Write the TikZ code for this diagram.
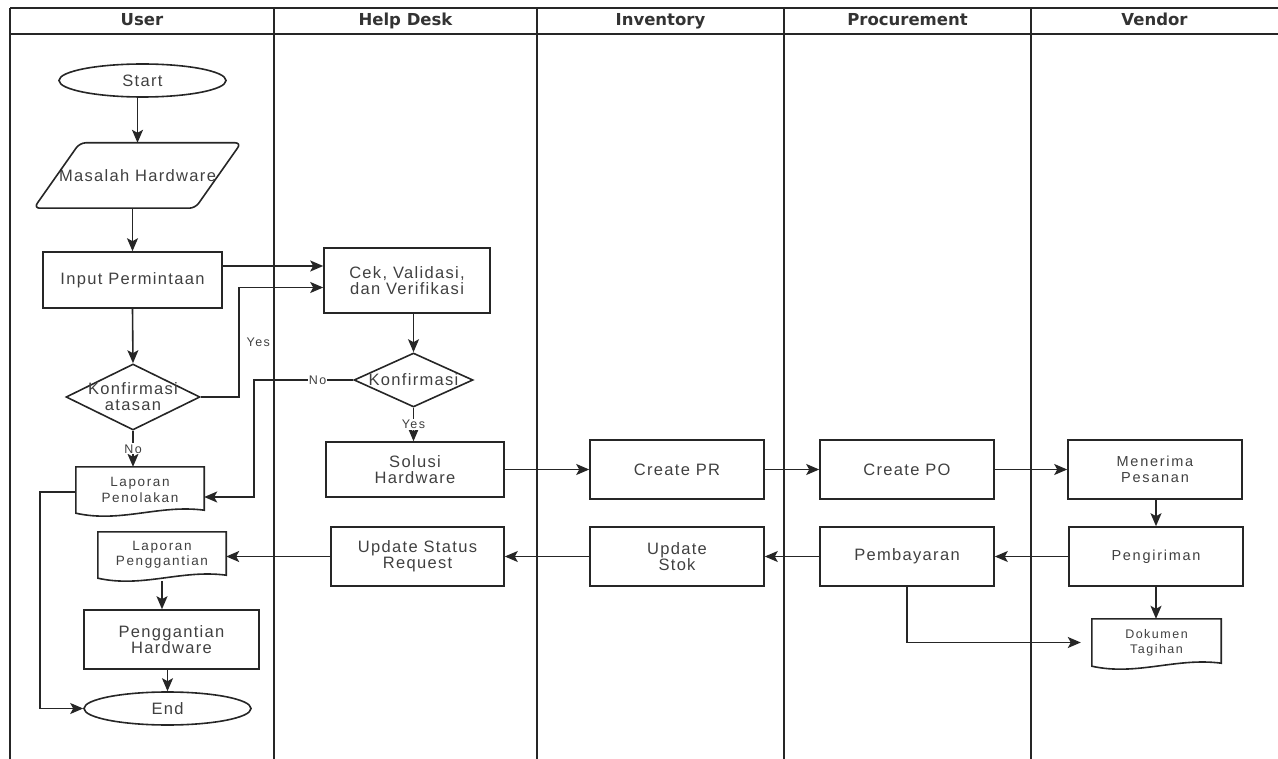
\documentclass[tikz,border=0pt]{standalone}
\usepackage{fontspec}
\setmainfont{Liberation Sans}[LetterSpace=8]
\newfontfamily\widefont{Liberation Sans}[LetterSpace=12]
\newfontfamily\headfont{DejaVu Sans}
\usetikzlibrary{shapes.geometric,positioning,arrows.meta,calc}

% outline of a document symbol (wavy bottom) around a named node
\newcommand{\docoutline}[1]{%
  \draw[shapeline] (#1.south west) -- (#1.north west) -- (#1.north east) -- ([yshift=3pt]#1.south east)
    .. controls ([xshift=-45pt,yshift=9pt]#1.south east) and ([xshift=45pt,yshift=-10pt]#1.south west) .. (#1.south west) -- cycle;}

\tikzset{
  lane/.style={line width=1.6pt, draw=black!85},
  header/.style={font=\headfont\bfseries\fontsize{16.5}{20}\selectfont, text=black!80, text height=12pt, text depth=3pt},
  shapeline/.style={line width=1.6pt, draw=black!85},
  txt/.style={align=center, text=black!75, font=\fontsize{16.5}{16}\selectfont},
  smalltxt/.style={align=center, text=black!75, font=\widefont\fontsize{14.5}{15.5}\selectfont},
  proc/.style={txt, shapeline, draw, minimum width=174pt, minimum height=59pt},
  terminal/.style={txt, shapeline, draw, ellipse, minimum width=167pt, minimum height=33pt, inner sep=0pt},
  decision/.style={shapeline, draw, diamond, inner sep=0pt},
  docbox/.style={align=center, text=black!75, font=\widefont\fontsize{13.5}{15.5}\selectfont, minimum width=128pt, minimum height=46pt, inner sep=0pt},
  flow/.style={->, line width=1.6pt, draw=black!85},
  yesno/.style={text=black!75, font=\widefont\fontsize{12.5}{14}\selectfont, inner sep=1pt}
}

\begin{document}
\begin{tikzpicture}[x=1pt, y=-1pt, >={Stealth[length=13pt,width=11pt,inset=3pt]}]
    \useasboundingbox (0,0) rectangle (1278,759);

    % lanes
    \draw[lane] (10,8) -- (1278,8);
    \draw[lane] (10,34) -- (1278,34);
    \draw[lane] (10,8) -- (10,759);
    \draw[lane] (274,8) -- (274,759);
    \draw[lane] (537,8) -- (537,759);
    \draw[lane] (784,8) -- (784,759);
    \draw[lane] (1031,8) -- (1031,759);
    \node[header] (hUser) at (142,21) {User};
    \node[header] (hDesk) at (405.5,21) {Help Desk};
    \node[header] (hInv) at (660.5,21) {Inventory};
    \node[header] (hProc) at (907.5,21) {Procurement};
    \node[header] (hVendor) at (1154.5,21) {Vendor};

    % user
    \node[terminal] (start) at (142.5,80.5) {Start};
    \node[txt, minimum width=161pt, minimum height=65pt, inner sep=0pt] (masalah) at (137.5,175.5) {Masalah Hardware};
    \draw[shapeline, rounded corners=6pt] ([xshift=-23pt]masalah.south west) -- ([xshift=23pt]masalah.north west)
        -- ([xshift=23pt]masalah.north east) -- ([xshift=-23pt]masalah.south east) -- cycle;
    \node[proc, minimum width=179pt, minimum height=56pt] (input) at (132.5,280) {Input Permintaan};
    \node[decision, minimum width=134pt, minimum height=66pt] (konfA) at (133,397) {};
    \node[txt] (konfAtext) at (konfA) {Konfirmasi\\atasan};
    \node[docbox] (tolak) at (140,490) {Laporan\\Penolakan};
    \docoutline{tolak}
    \node[docbox] (lapGanti) at (162,555) {Laporan\\Penggantian};
    \docoutline{lapGanti}
    \node[proc, minimum width=175pt] (gantiHw) at (171.5,639.5) {Penggantian\\Hardware};
    \node[terminal] (end) at (167.5,708.5) {End};

    % help desk
    \node[proc, minimum width=166pt, minimum height=65pt] (cek) at (407,280.5) {Cek, Validasi,\\dan Verifikasi};
    \node[decision, minimum width=119pt, minimum height=54pt] (konfB) at (413.5,380) {};
    \node[txt] (konfBtext) at (konfB) {Konfirmasi};
    \node[proc, minimum width=178pt, minimum height=55pt] (solusi) at (415,469.5) {Solusi\\Hardware};
    \node[proc, minimum width=173pt] (updStatus) at (417.5,556.5) {Update Status\\Request};

    % inventory, procurement, vendor
    \node[proc] (createPR) at (677,469.5) {Create PR};
    \node[proc] (updStok) at (677,556.5) {Update\\Stok};
    \node[proc] (createPO) at (907,469.5) {Create PO};
    \node[proc] (bayar) at (907,556.5) {Pembayaran};
    \node[proc, smalltxt] (terima) at (1155,469.5) {Menerima\\Pesanan};
    \node[proc, smalltxt] (kirim) at (1156,556.5) {Pengiriman};
    \node[docbox, minimum width=129pt, minimum height=47pt, font=\widefont\fontsize{12.5}{15}\selectfont] (tagihan) at (1156.5,642.5) {Dokumen\\Tagihan};
    \docoutline{tagihan}

    % flows
    \draw[flow] (start.south -| masalah.north) -- (masalah.north);
    \draw[flow] (masalah.south -| input.north) -- (input.north);
    \draw[flow] ([yshift=14pt]input.east) -- ([yshift=14pt]input.east -| cek.west);
    \draw[flow] (input.south) -- (konfA.north);
    \draw[flow] (konfA.east) -- ++(38,0) |- node[yesno, pos=0.25, right=6pt] {Yes} ([yshift=-7pt]cek.west);
    \draw[flow] (konfA.south) -- node[yesno, fill=white] {No} (konfA.south |- tolak.north);
    \draw[flow] (cek.south -| konfB.north) -- (konfB.north);
    \draw[flow] (konfB.west) -- node[yesno, fill=white, pos=0.36] {No} ++(-99,0) |- ([yshift=-7pt]tolak.east);
    \draw[flow] (konfB.south) -- node[yesno, fill=white] {Yes} (konfB.south |- solusi.north);
    \draw[flow] ([yshift=-2pt]tolak.west) -- ++(-36,0) |- (end.west);
    \draw[flow] (solusi.east) -- (createPR.west);
    \draw[flow] (createPR.east) -- (createPO.west);
    \draw[flow] (createPO.east) -- (terima.west);
    \draw[flow] (terima.south -| kirim.north) -- (kirim.north);
    \draw[flow] (kirim.west) -- (bayar.east);
    \draw[flow] (bayar.west) -- (updStok.east);
    \draw[flow] (updStok.west) -- (updStatus.east);
    \draw[flow] (updStatus.west) -- (updStatus.west -| lapGanti.east);
    \draw[flow] ([yshift=-3pt]lapGanti.south) -- (lapGanti.south |- gantiHw.north);
    \draw[flow] (end.north |- gantiHw.south) -- (end.north);
    \draw[flow] (kirim.south) -- (kirim.south |- tagihan.north);
    \draw[flow, shorten >=11pt] (bayar.south) |- (tagihan.west);
\end{tikzpicture}
\end{document}
